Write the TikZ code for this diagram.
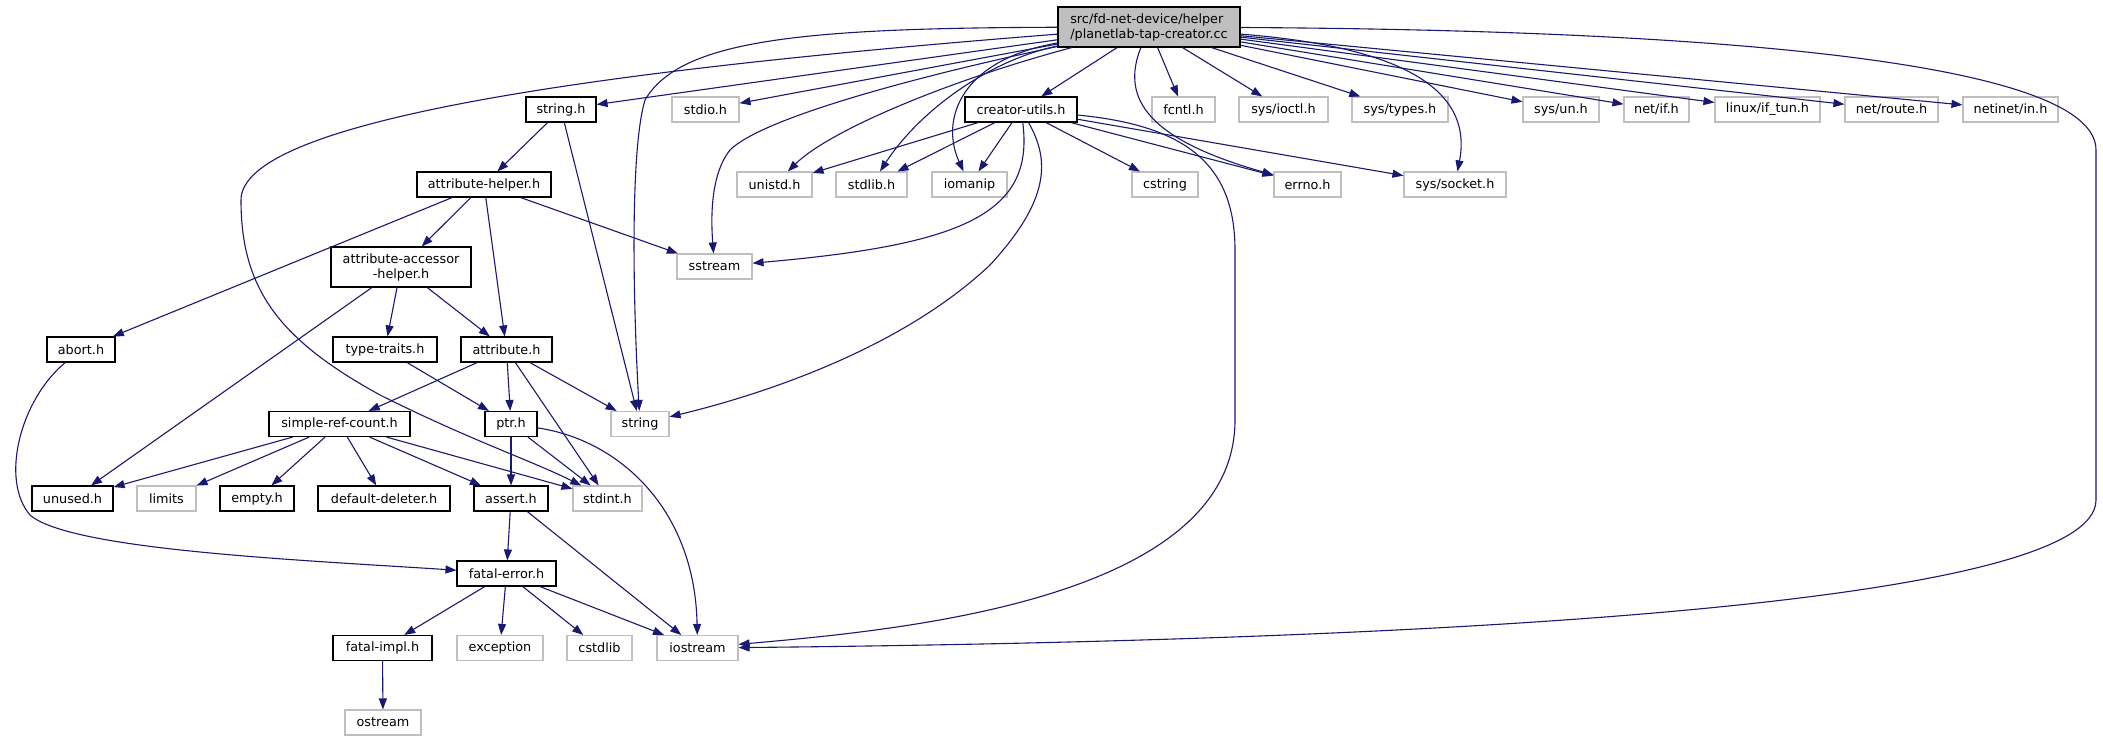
\documentclass[tikz,border=0pt]{standalone}
\usepackage{fontspec}
\setmainfont{DejaVu Sans}
\usepackage{tikz}
\usetikzlibrary{arrows.meta}
\definecolor{edgeblue}{HTML}{191970}
\definecolor{extgrey}{HTML}{BFBFBF}

\begin{document}
\begin{tikzpicture}[x=1pt,y=-1pt,
    box/.style={rectangle,inner sep=0pt,minimum height=25pt,line width=1.1pt,
      font=\fontsize{12.8}{15}\selectfont},
    doc/.style={box,draw=black},
    ext/.style={box,draw=extgrey},
    dep/.style={draw=edgeblue,line width=1.1pt,-{Triangle[length=11pt,width=8pt]}}]
  \fill[white] (0,0) rectangle (2103,741);
  \useasboundingbox (0,0) rectangle (2103,741);

  % top file
  \node[doc,fill=extgrey,minimum width=182pt,minimum height=40pt,align=left] (root) at (1149,27)
    {src/fd-net-device/helper\\/planetlab-tap-creator.cc};

  % first row
  \node[doc,minimum width=70pt] (stringh) at (561,109.5) {string.h};
  \node[ext,minimum width=67pt] (stdio) at (705.5,109.5) {stdio.h};
  \node[doc,minimum width=112pt] (creator) at (1021,109.5) {creator-utils.h};
  \node[ext,minimum width=63pt] (fcntl) at (1183.5,109.5) {fcntl.h};
  \node[ext,minimum width=89pt] (ioctl) at (1283.5,109.5) {sys/ioctl.h};
  \node[ext,minimum width=96pt] (types) at (1400,109.5) {sys/types.h};
  \node[ext,minimum width=76pt] (un) at (1561,109.5) {sys/un.h};
  \node[ext,minimum width=65pt] (netif) at (1656.5,109.5) {net/if.h};
  \node[ext,minimum width=105pt] (iftun) at (1767.5,109.5) {linux/if\_tun.h};
  \node[ext,minimum width=93pt] (route) at (1891.5,109.5) {net/route.h};
  \node[ext,minimum width=95pt] (netin) at (2010.5,109.5) {netinet/in.h};

  % second row
  \node[doc,minimum width=134pt] (attrhelper) at (484,184.5) {attribute-helper.h};
  \node[ext,minimum width=75pt] (unistd) at (774.5,184.5) {unistd.h};
  \node[ext,minimum width=71pt] (stdlib) at (871.5,184.5) {stdlib.h};
  \node[ext,minimum width=75pt] (iomanip) at (969.5,184.5) {iomanip};
  \node[ext,minimum width=66pt] (cstring) at (1165,184.5) {cstring};
  \node[ext,minimum width=67pt] (errno) at (1307.5,184.5) {errno.h};
  \node[ext,minimum width=102pt] (socket) at (1455,184.5) {sys/socket.h};

  \node[doc,minimum width=140pt,minimum height=40pt,align=center] (accessor) at (401,267)
    {attribute-accessor\\-helper.h};
  \node[ext,minimum width=75pt] (sstream) at (714.5,266.5) {sstream};

  \node[doc,minimum width=68pt] (abort) at (81,349.5) {abort.h};
  \node[doc,minimum width=104pt] (typetraits) at (385,349.5) {type-traits.h};
  \node[doc,minimum width=91pt] (attribute) at (506.5,349.5) {attribute.h};

  \node[doc,minimum width=141pt] (simpleref) at (339.5,424) {simple-ref-count.h};
  \node[doc,minimum width=52pt] (ptr) at (511,424) {ptr.h};
  \node[ext,minimum width=58pt] (string) at (640,424) {string};

  \node[doc,minimum width=81pt] (unused) at (72.5,498.5) {unused.h};
  \node[ext,minimum width=59pt] (limits) at (166.5,498.5) {limits};
  \node[doc,minimum width=74pt] (empty) at (257,498.5) {empty.h};
  \node[doc,minimum width=132pt] (deleter) at (384,498.5) {default-deleter.h};
  \node[doc,minimum width=74pt] (assert) at (511,498.5) {assert.h};
  \node[ext,minimum width=69pt] (stdint) at (607.5,498.5) {stdint.h};

  \node[doc,minimum width=99pt] (fatalerror) at (506.5,573.5) {fatal-error.h};

  \node[doc,minimum width=99pt] (fatalimpl) at (382.5,648) {fatal-impl.h};
  \node[ext,minimum width=86pt] (exception) at (500,648) {exception};
  \node[ext,minimum width=65pt] (cstdlib) at (599.5,648) {cstdlib};
  \node[ext,minimum width=81pt] (iostream) at (697.5,648) {iostream};

  \node[ext,minimum width=76pt] (ostream) at (383,722.5) {ostream};

  % includes of the top file
  \draw[dep] (root) -- (stringh);
  \draw[dep] (root) -- (stdio);
  \draw[dep] (root) -- (creator);
  \foreach \n in {fcntl,ioctl,types,un,netif,iftun,route,netin}
    \draw[dep] (root) -- (\n);
  \draw[dep] (root) .. controls (950,80) and (830,130) .. (unistd);
  \draw[dep] (root) .. controls (990,60) and (920,110) .. (stdlib);
  \draw[dep] (root) .. controls (960,60) and (940,120) .. (iomanip);
  \draw[dep] (root) .. controls (900,80) and (760,120) .. (730,150)
    .. controls (710,175) and (711,220) .. (sstream);
  \draw[dep] (root) .. controls (800,28) and (680,40) .. (645,100)
    .. controls (630,150) and (633,300) .. (string);
  \draw[dep] (root) .. controls (600,70) and (241,120) .. (241,200)
    .. controls (241,290) and (280,340) .. (380,395)
    .. controls (470,440) and (530,460) .. (stdint);
  \draw[dep] (root) .. controls (1120,100) and (1150,140) .. (errno);
  \draw[dep] (root) .. controls (1380,45) and (1475,80) .. (socket);
  \draw[dep] (root) .. controls (1700,30) and (2096,60) .. (2096,150) -- (2096,500)
    .. controls (2096,600) and (1500,640) .. (iostream);

  % creator-utils.h
  \foreach \n in {unistd,stdlib,iomanip,cstring,errno,socket}
    \draw[dep] (creator) -- (\n);
  \draw[dep] (creator) .. controls (1035,215) and (960,245) .. (sstream);
  \draw[dep] (creator) .. controls (1050,160) and (1050,200) .. (990,265)
    .. controls (900,350) and (760,395) .. (string);
  \draw[dep] (creator) .. controls (1180,125) and (1235,160) .. (1235,250) -- (1235,420)
    .. controls (1235,600) and (900,630) .. (iostream);

  % the rest
  \draw[dep] (stringh) -- (attrhelper);
  \draw[dep] (stringh) -- (string);
  \foreach \n in {accessor,attribute,abort,sstream}
    \draw[dep] (attrhelper) -- (\n);
  \foreach \n in {unused,typetraits,attribute}
    \draw[dep] (accessor) -- (\n);
  \draw[dep] (abort) .. controls (20,400) and (0,480) .. (30,515)
    .. controls (70,550) and (300,560) .. (fatalerror);
  \draw[dep] (typetraits) -- (ptr);
  \foreach \n in {simpleref,ptr,stdint,string}
    \draw[dep] (attribute) -- (\n);
  \foreach \n in {unused,limits,empty,deleter,assert,stdint}
    \draw[dep] (simpleref) -- (\n);
  \draw[dep] (ptr) -- (assert);
  \draw[dep] (ptr) -- (stdint);
  \draw[dep] (ptr) .. controls (620,440) and (695,510) .. (iostream);
  \draw[dep] (assert) -- (fatalerror);
  \draw[dep] (assert) -- (iostream);
  \foreach \n in {fatalimpl,exception,cstdlib,iostream}
    \draw[dep] (fatalerror) -- (\n);
  \draw[dep] (fatalimpl) -- (ostream);
\end{tikzpicture}
\end{document}
